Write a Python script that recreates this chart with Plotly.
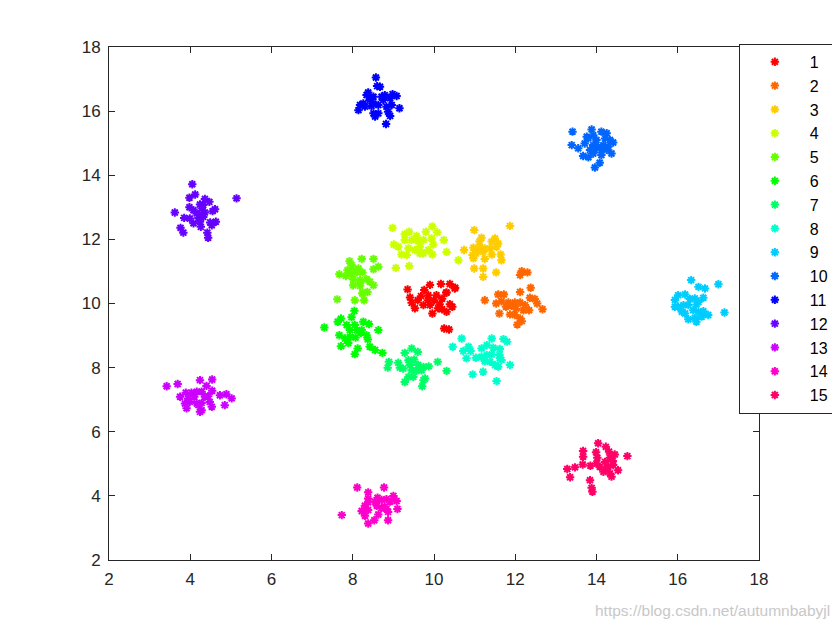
import plotly.graph_objects as go
import colorsys

# cluster point coordinates (data units)
c1_x = [9.35, 9.90, 10.17, 10.39, 10.51, 9.76, 9.68, 9.86, 10.06, 10.31, 9.41, 9.45, 9.53, 9.74, 9.90, 10.14, 10.39, 10.20, 10.31, 9.96, 10.25, 10.37, 10.00, 10.20, 9.60, 10.45, 10.10, 9.85, 10.52, 10.30]
c1_y = [10.44, 10.58, 10.61, 10.61, 10.47, 10.42, 10.23, 10.26, 10.26, 10.34, 10.19, 10.02, 9.85, 9.95, 9.95, 9.98, 9.98, 9.82, 9.74, 9.69, 9.22, 9.19, 10.10, 10.15, 10.10, 9.90, 9.85, 10.10, 10.49, 10.34]

c2_x = [12.16, 12.30, 12.12, 11.72, 11.58, 12.12, 12.38, 11.25, 11.53, 11.66, 11.83, 11.91, 11.99, 12.12, 12.24, 12.36, 12.48, 12.54, 11.77, 12.02, 12.20, 12.34, 11.61, 11.87, 11.99, 12.12, 12.67, 12.05, 12.16]
c2_y = [11.01, 10.97, 10.89, 10.28, 10.28, 10.36, 10.49, 10.10, 10.00, 10.07, 10.03, 9.93, 10.03, 10.03, 9.95, 10.18, 10.14, 10.00, 9.90, 9.84, 9.79, 9.79, 9.69, 9.66, 9.64, 9.53, 9.82, 9.34, 9.45]

c3_x = [10.99, 11.87, 11.17, 11.12, 11.50, 11.42, 11.58, 10.74, 10.97, 11.13, 11.25, 11.38, 11.54, 10.95, 11.03, 11.21, 11.42, 11.64, 10.97, 11.25, 11.66, 10.99, 11.21, 11.21, 11.53, 11.05]
c3_y = [12.29, 12.42, 12.05, 11.93, 12.03, 11.93, 11.87, 11.67, 11.74, 11.77, 11.72, 11.72, 11.77, 11.51, 11.56, 11.61, 11.53, 11.53, 11.41, 11.39, 11.35, 11.09, 11.09, 10.83, 10.97, 11.63]

c4_x = [8.98, 9.28, 9.39, 9.57, 9.80, 9.96, 10.08, 9.94, 10.24, 9.28, 9.45, 9.61, 9.74, 9.01, 9.12, 9.37, 9.53, 9.65, 9.98, 9.86, 9.96, 9.20, 9.33, 9.65, 10.31, 9.06, 9.39, 9.74, 10.60]
c4_y = [12.36, 12.16, 12.24, 12.11, 12.24, 12.40, 12.22, 12.03, 11.98, 11.98, 11.98, 11.95, 11.98, 11.84, 11.77, 11.72, 11.67, 11.77, 11.84, 11.67, 11.53, 11.53, 11.51, 11.56, 11.61, 11.11, 11.17, 11.56, 11.35]

c5_x = [7.92, 8.22, 8.51, 7.97, 7.87, 8.01, 8.14, 8.51, 8.63, 7.67, 7.83, 7.97, 8.10, 8.24, 8.01, 8.18, 8.34, 8.42, 8.01, 8.18, 8.51, 8.24, 8.36, 7.62, 8.05, 8.28, 7.95, 8.18, 8.24]
c5_y = [11.32, 11.39, 11.39, 11.20, 11.04, 11.07, 11.09, 11.07, 11.15, 10.91, 10.86, 10.91, 10.97, 10.97, 10.76, 10.73, 10.76, 10.68, 10.57, 10.55, 10.57, 10.31, 10.36, 10.13, 10.10, 10.10, 10.99, 10.63, 10.32]

c6_x = [8.04, 7.71, 7.63, 7.97, 7.30, 7.85, 8.05, 8.26, 8.40, 7.93, 8.10, 8.22, 8.34, 8.63, 7.67, 7.81, 7.93, 8.07, 8.37, 7.89, 7.71, 8.12, 8.42, 8.55, 8.73, 8.05, 8.20]
c6_y = [9.77, 9.53, 9.43, 9.57, 9.25, 9.33, 9.33, 9.43, 9.36, 9.17, 9.17, 9.17, 9.01, 9.17, 9.01, 8.91, 8.96, 8.94, 8.88, 8.77, 8.67, 8.60, 8.65, 8.55, 8.46, 8.42, 9.09]

c7_x = [9.28, 9.45, 9.60, 8.89, 8.86, 9.12, 9.16, 9.24, 9.37, 9.51, 9.41, 9.61, 9.74, 9.87, 10.09, 10.31, 9.45, 9.57, 9.69, 9.37, 9.49, 9.28, 9.74, 9.78, 9.71]
c7_y = [8.46, 8.60, 8.49, 8.18, 8.00, 8.15, 8.00, 7.97, 8.23, 8.25, 8.08, 8.08, 8.02, 8.04, 8.18, 7.90, 7.92, 7.90, 7.92, 7.71, 7.71, 7.55, 7.61, 7.66, 7.42]

c8_x = [10.68, 10.46, 10.85, 10.72, 10.90, 11.42, 11.71, 11.80, 11.17, 11.30, 11.46, 11.62, 10.80, 11.03, 11.17, 11.30, 11.42, 11.61, 11.25, 11.38, 11.50, 11.62, 11.66, 11.87, 11.21, 10.95, 11.54, 11.58]
c8_y = [8.91, 8.65, 8.65, 8.52, 8.52, 8.91, 8.89, 8.81, 8.60, 8.70, 8.62, 8.58, 8.29, 8.31, 8.34, 8.39, 8.41, 8.39, 8.20, 8.18, 8.08, 8.29, 8.24, 8.08, 7.87, 7.79, 7.58, 8.03]

c9_x = [16.33, 16.51, 16.67, 17.00, 16.01, 15.93, 16.18, 16.30, 16.42, 16.63, 16.01, 16.14, 16.26, 16.46, 16.51, 16.10, 16.18, 16.38, 16.51, 16.63, 16.75, 16.26, 16.42, 16.46, 16.59, 17.15, 15.93]
c9_y = [10.73, 10.52, 10.47, 10.60, 10.26, 10.11, 10.28, 10.14, 10.16, 10.18, 9.90, 9.95, 9.95, 9.97, 10.05, 9.74, 9.69, 9.79, 9.74, 9.76, 9.64, 9.51, 9.55, 9.43, 9.59, 9.72, 9.90]

c10_x = [13.41, 13.39, 13.55, 13.71, 13.76, 13.88, 13.92, 14.00, 14.12, 14.25, 14.21, 14.33, 14.41, 13.92, 14.04, 14.17, 14.29, 13.84, 13.96, 14.12, 14.25, 13.67, 13.80, 13.92, 14.12, 14.37, 14.08, 13.96, 13.80]
c10_y = [15.36, 14.94, 14.84, 14.99, 15.20, 15.43, 15.25, 15.10, 15.36, 15.31, 15.15, 15.10, 15.02, 14.94, 14.89, 14.94, 14.89, 14.79, 14.79, 14.79, 14.79, 14.60, 14.56, 14.68, 14.63, 14.68, 14.39, 14.24, 15.15]

c11_x = [8.57, 8.60, 8.67, 8.38, 8.34, 8.51, 8.79, 8.98, 9.08, 8.42, 8.18, 8.14, 8.30, 8.51, 8.63, 8.75, 8.92, 8.83, 8.96, 9.15, 8.87, 8.92, 8.51, 8.63, 8.55, 8.82, 8.26, 8.46, 8.71]
c11_y = [17.05, 16.78, 16.76, 16.58, 16.50, 16.45, 16.50, 16.53, 16.47, 16.35, 16.19, 16.03, 16.14, 16.24, 16.19, 16.35, 16.40, 16.14, 16.19, 16.09, 15.98, 15.85, 15.93, 15.93, 15.83, 15.60, 16.24, 16.16, 16.45]

c12_x = [4.05, 4.12, 3.98, 5.14, 4.36, 4.47, 4.24, 4.32, 4.28, 3.98, 4.08, 4.61, 4.55, 3.62, 4.16, 4.28, 4.36, 3.85, 3.99, 4.20, 4.32, 4.08, 4.24, 4.26, 4.49, 4.63, 4.53, 3.76, 3.83, 4.42, 4.44]
c12_y = [13.72, 13.40, 13.30, 13.28, 13.26, 13.17, 13.09, 13.07, 12.97, 13.00, 12.91, 12.94, 12.88, 12.84, 12.81, 12.78, 12.84, 12.67, 12.65, 12.67, 12.70, 12.50, 12.55, 12.39, 12.53, 12.55, 12.44, 12.36, 12.21, 12.21, 12.05]

c13_x = [3.42, 3.69, 4.24, 4.54, 4.40, 3.75, 3.89, 4.03, 4.16, 4.28, 4.54, 4.73, 4.89, 5.02, 3.95, 4.10, 4.36, 4.44, 3.87, 3.99, 4.16, 4.28, 4.48, 3.91, 4.20, 4.28, 4.53, 4.85, 4.24]
c13_y = [7.42, 7.49, 7.61, 7.63, 7.43, 7.09, 7.22, 7.22, 7.25, 7.25, 7.28, 7.14, 7.17, 7.04, 7.04, 7.09, 7.09, 7.11, 6.88, 6.93, 6.88, 6.90, 6.93, 6.73, 6.83, 6.67, 6.78, 6.83, 6.62]

c14_x = [8.11, 8.77, 8.38, 8.38, 8.61, 8.38, 8.55, 8.71, 8.83, 9.00, 9.08, 8.92, 8.30, 8.59, 8.79, 8.22, 8.38, 8.83, 8.87, 9.10, 8.30, 8.63, 7.73, 8.53, 8.38, 8.87, 8.71]
c14_y = [4.26, 4.26, 4.11, 3.92, 3.94, 3.80, 3.82, 3.87, 3.90, 4.00, 3.84, 3.82, 3.69, 3.69, 3.66, 3.53, 3.56, 3.59, 3.50, 3.59, 3.38, 3.42, 3.40, 3.24, 3.14, 3.24, 3.63]

c15_x = [14.04, 14.23, 13.67, 13.99, 14.31, 14.45, 13.67, 14.02, 14.33, 14.40, 13.28, 13.47, 13.66, 13.85, 14.00, 14.08, 14.21, 14.29, 14.41, 14.53, 14.17, 14.33, 14.37, 13.35, 13.84, 13.88, 13.90, 14.76, 14.25]
c15_y = [5.64, 5.53, 5.40, 5.36, 5.38, 5.29, 5.22, 5.19, 5.19, 5.09, 4.84, 4.89, 4.98, 4.94, 5.01, 4.91, 5.06, 4.91, 4.96, 4.80, 4.75, 4.70, 4.60, 4.58, 4.49, 4.25, 4.13, 5.24, 4.86]

labels = [str(i) for i in range(1, 16)]
xs = [c1_x, c2_x, c3_x, c4_x, c5_x, c6_x, c7_x, c8_x, c9_x, c10_x, c11_x, c12_x, c13_x, c14_x, c15_x]
ys = [c1_y, c2_y, c3_y, c4_y, c5_y, c6_y, c7_y, c8_y, c9_y, c10_y, c11_y, c12_y, c13_y, c14_y, c15_y]
ticks = [2, 4, 6, 8, 10, 12, 14, 16, 18]

# MATLAB hsv(15) colormap
colors = []
for i in range(15):
    r, g, b = colorsys.hsv_to_rgb(i / 15, 1, 1)
    colors.append("rgb(%d,%d,%d)" % (round(r * 255), round(g * 255), round(b * 255)))

fig = go.Figure()
for i in range(15):
    fig.add_trace(go.Scatter(
        x=xs[i], y=ys[i], mode="markers", name=labels[i],
        legendgroup=labels[i],
        marker=dict(symbol="asterisk-open", size=7, color=colors[i],
                    line=dict(width=2, color=colors[i])),
    ))

axis_common = dict(
    range=[2, 18], tickvals=ticks, ticktext=[str(t) for t in ticks],
    showgrid=False, zeroline=False, showline=True, linecolor="#262626", linewidth=1,
    mirror="ticks", ticks="inside", ticklen=6, tickcolor="#262626",
    ticklabelstandoff=4,
    tickfont=dict(family="Liberation Sans, Arial", size=17, color="#262626"),
)

fig.update_layout(
    width=840, height=630,
    margin=dict(l=101, r=89, t=39, b=78),
    plot_bgcolor="white", paper_bgcolor="white",
    xaxis=dict(**axis_common),
    yaxis=dict(**axis_common),
    legend=dict(
        x=0.969, xanchor="left", y=1.006, yanchor="top",
        bgcolor="white", bordercolor="#262626", borderwidth=1,
        font=dict(family="Liberation Sans, Arial", size=16, color="black"),
        traceorder="grouped", tracegroupgap=0, itemwidth=60,
        maxheight=600,
    ),
    annotations=[dict(
        text="https://blog.csdn.net/autumnbabyjl", xref="paper", yref="paper",
        x=1.112, y=-0.099, xanchor="right", yanchor="middle", showarrow=False,
        font=dict(family="Liberation Sans, Arial", size=15.5, color="#c8c8c8"),
    )],
)

fig.write_html("out.html")
